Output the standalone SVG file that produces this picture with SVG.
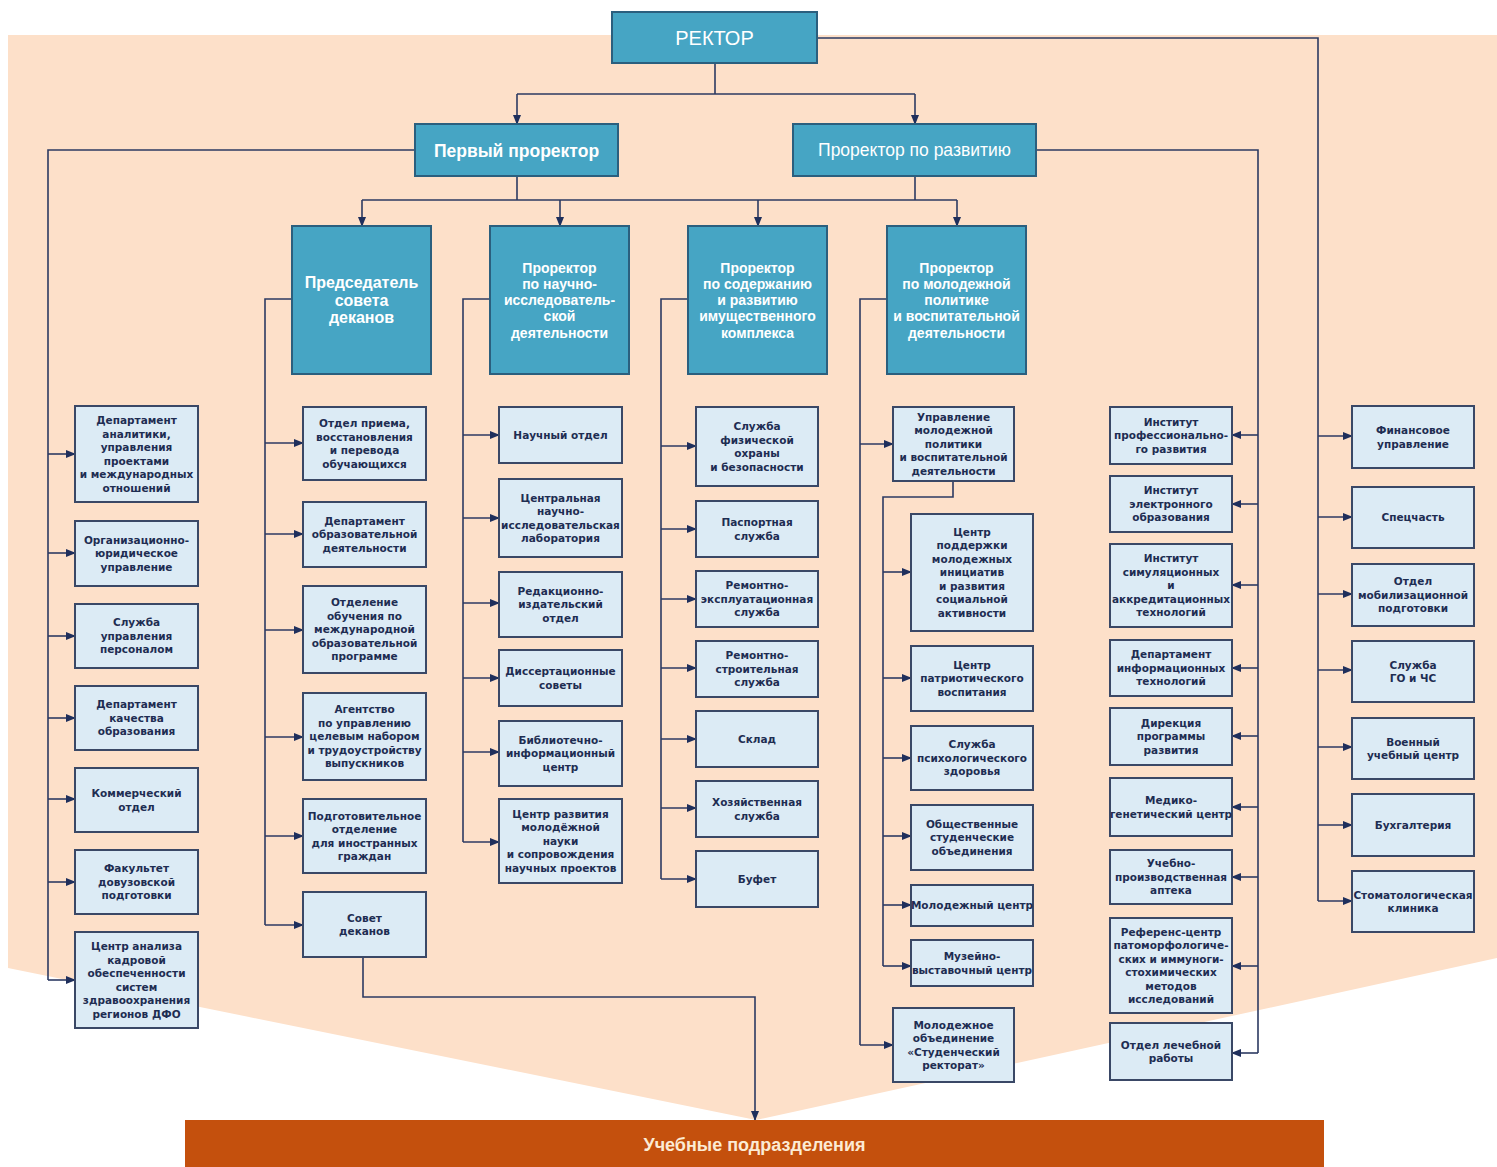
<svg xmlns="http://www.w3.org/2000/svg" width="1497" height="1167" viewBox="0 0 1497 1167">
<style>
.bg{fill:#fde0c9}
.hdr rect{fill:#46a5c4;stroke:#2b5f7e;stroke-width:2}
.hdr text{fill:#ffffff;font-family:"Liberation Sans",Arial,sans-serif;text-anchor:middle}
.tall text{font-weight:bold}
.box rect{fill:#dcebf5;stroke:#3a4866;stroke-width:2}
.box text{fill:#1e2d52;font-family:"DejaVu Sans",Verdana,sans-serif;font-size:10.5px;font-weight:bold;text-anchor:middle}
.ln{fill:none;stroke:#2c3a62;stroke-width:1.6}
.ar{fill:none;stroke:#2c3a62;stroke-width:1.6;marker-end:url(#ah)}
</style>
<defs>
<marker id="ah" markerUnits="userSpaceOnUse" markerWidth="10" markerHeight="8" refX="9" refY="4" orient="auto">
<path d="M0,0 L10,4 L0,8 Z" fill="#1f2f5c"/>
</marker>
</defs>
<rect width="1497" height="1167" fill="#ffffff"/>
<polygon class="bg" points="8,35 1497,35 1497,958 756,1120 8,968"/>

<g id="connectors">
<path class="ln" d="M715,63 V94 M517,94 H915"/>
<path class="ar" d="M517,94 V124"/>
<path class="ar" d="M915,94 V124"/>
<path class="ln" d="M817,38 H1318 V901"/>
<path class="ln" d="M415,150 H48 V980"/>
<path class="ln" d="M1036,150 H1258 V1053"/>
<path class="ln" d="M517,176 V200 M915,176 V200 M362,200 H957"/>
<path class="ar" d="M362,200 V226"/>
<path class="ar" d="M560,200 V226"/>
<path class="ar" d="M758,200 V226"/>
<path class="ar" d="M957,200 V226"/>
<path class="ln" d="M292,299 H265 V925"/>
<path class="ln" d="M490,299 H463 V842"/>
<path class="ln" d="M688,299 H661 V879"/>
<path class="ln" d="M887,299 H860 V1045"/>
<path class="ln" d="M953,481 V497 H883 V966"/>
<path class="ar" d="M363,957 V997 H755 V1120"/>
<path class="ar" d="M48,454 H75"/><path class="ar" d="M48,553 H75"/><path class="ar" d="M48,636 H75"/><path class="ar" d="M48,718 H75"/><path class="ar" d="M48,799 H75"/><path class="ar" d="M48,882 H75"/><path class="ar" d="M48,980 H75"/>
<path class="ar" d="M265,443 H303"/><path class="ar" d="M265,534 H303"/><path class="ar" d="M265,630 H303"/><path class="ar" d="M265,737 H303"/><path class="ar" d="M265,836 H303"/><path class="ar" d="M265,925 H303"/>
<path class="ar" d="M463,435 H499"/><path class="ar" d="M463,518 H499"/><path class="ar" d="M463,603 H499"/><path class="ar" d="M463,678 H499"/><path class="ar" d="M463,752 H499"/><path class="ar" d="M463,842 H499"/>
<path class="ar" d="M661,446 H696"/><path class="ar" d="M661,529 H696"/><path class="ar" d="M661,599 H696"/><path class="ar" d="M661,668 H696"/><path class="ar" d="M661,739 H696"/><path class="ar" d="M661,808 H696"/><path class="ar" d="M661,879 H696"/>
<path class="ar" d="M860,444 H893"/><path class="ar" d="M860,1045 H893"/>
<path class="ar" d="M883,572 H911"/><path class="ar" d="M883,678 H911"/><path class="ar" d="M883,758 H911"/><path class="ar" d="M883,836 H911"/><path class="ar" d="M883,905 H911"/><path class="ar" d="M883,966 H911"/>
<path class="ar" d="M1258,435 H1232"/><path class="ar" d="M1258,504 H1232"/><path class="ar" d="M1258,585 H1232"/><path class="ar" d="M1258,668 H1232"/><path class="ar" d="M1258,736 H1232"/><path class="ar" d="M1258,807 H1232"/><path class="ar" d="M1258,877 H1232"/><path class="ar" d="M1258,966 H1232"/><path class="ar" d="M1258,1053 H1232"/>
<path class="ar" d="M1318,436 H1352"/><path class="ar" d="M1318,517 H1352"/><path class="ar" d="M1318,594 H1352"/><path class="ar" d="M1318,670 H1352"/><path class="ar" d="M1318,747 H1352"/><path class="ar" d="M1318,825 H1352"/><path class="ar" d="M1318,901 H1352"/>
</g>

<g id="rector" class="hdr"><rect x="612" y="12" width="205" height="51"/><text x="714.5" y="45" font-size="20">РЕКТОР</text></g>
<g id="first-prorector" class="hdr"><rect x="415" y="124" width="203" height="52"/><text x="516.5" y="157" font-size="17.5" font-weight="bold">Первый проректор</text></g>
<g id="prorector-dev" class="hdr"><rect x="793" y="124" width="243" height="52"/><text x="914.5" y="156" font-size="17.5">Проректор по развитию</text></g>

<g id="chair-deans" class="hdr tall"><rect x="292" y="226" width="139" height="148"/><text x="361.5" y="288" font-size="16"><tspan x="361.5">Председатель</tspan><tspan x="361.5" dy="17.5">совета</tspan><tspan x="361.5" dy="17.5">деканов</tspan></text></g>
<g id="prorector-science" class="hdr tall"><rect x="490" y="226" width="139" height="148"/><text x="559.5" y="272.5" font-size="14"><tspan x="559.5">Проректор</tspan><tspan x="559.5" dy="16.3">по научно-</tspan><tspan x="559.5" dy="16.3">исследователь-</tspan><tspan x="559.5" dy="16.3">ской</tspan><tspan x="559.5" dy="16.3">деятельности</tspan></text></g>
<g id="prorector-property" class="hdr tall"><rect x="688" y="226" width="139" height="148"/><text x="757.5" y="272.5" font-size="14"><tspan x="757.5">Проректор</tspan><tspan x="757.5" dy="16.3">по содержанию</tspan><tspan x="757.5" dy="16.3">и развитию</tspan><tspan x="757.5" dy="16.3">имущественного</tspan><tspan x="757.5" dy="16.3">комплекса</tspan></text></g>
<g id="prorector-youth" class="hdr tall"><rect x="887" y="226" width="139" height="148"/><text x="956.5" y="272.5" font-size="14"><tspan x="956.5">Проректор</tspan><tspan x="956.5" dy="16.3">по молодежной</tspan><tspan x="956.5" dy="16.3">политике</tspan><tspan x="956.5" dy="16.3">и воспитательной</tspan><tspan x="956.5" dy="16.3">деятельности</tspan></text></g>

<g id="c1-1" class="box"><rect x="75" y="406" width="123" height="96"/><text x="136.5" y="424"><tspan x="136.5">Департамент</tspan><tspan x="136.5" dy="13.5">аналитики,</tspan><tspan x="136.5" dy="13.5">управления</tspan><tspan x="136.5" dy="13.5">проектами</tspan><tspan x="136.5" dy="13.5">и международных</tspan><tspan x="136.5" dy="13.5">отношений</tspan></text></g>
<g id="c1-2" class="box"><rect x="75" y="521" width="123" height="65"/><text x="136.5" y="543.8"><tspan x="136.5">Организационно-</tspan><tspan x="136.5" dy="13.5">юридическое</tspan><tspan x="136.5" dy="13.5">управление</tspan></text></g>
<g id="c1-3" class="box"><rect x="75" y="604" width="123" height="64"/><text x="136.5" y="626.3"><tspan x="136.5">Служба</tspan><tspan x="136.5" dy="13.5">управления</tspan><tspan x="136.5" dy="13.5">персоналом</tspan></text></g>
<g id="c1-4" class="box"><rect x="75" y="686" width="123" height="64"/><text x="136.5" y="708.3"><tspan x="136.5">Департамент</tspan><tspan x="136.5" dy="13.5">качества</tspan><tspan x="136.5" dy="13.5">образования</tspan></text></g>
<g id="c1-5" class="box"><rect x="75" y="768" width="123" height="64"/><text x="136.5" y="797"><tspan x="136.5">Коммерческий</tspan><tspan x="136.5" dy="13.5">отдел</tspan></text></g>
<g id="c1-6" class="box"><rect x="75" y="850" width="123" height="64"/><text x="136.5" y="872.3"><tspan x="136.5">Факультет</tspan><tspan x="136.5" dy="13.5">довузовской</tspan><tspan x="136.5" dy="13.5">подготовки</tspan></text></g>
<g id="c1-7" class="box"><rect x="75" y="932" width="123" height="96"/><text x="136.5" y="950"><tspan x="136.5">Центр анализа</tspan><tspan x="136.5" dy="13.5">кадровой</tspan><tspan x="136.5" dy="13.5">обеспеченности</tspan><tspan x="136.5" dy="13.5">систем</tspan><tspan x="136.5" dy="13.5">здравоохранения</tspan><tspan x="136.5" dy="13.5">регионов ДФО</tspan></text></g>

<g id="c2-1" class="box"><rect x="303" y="407" width="123" height="73"/><text x="364.5" y="427"><tspan x="364.5">Отдел приема,</tspan><tspan x="364.5" dy="13.5">восстановления</tspan><tspan x="364.5" dy="13.5">и перевода</tspan><tspan x="364.5" dy="13.5">обучающихся</tspan></text></g>
<g id="c2-2" class="box"><rect x="303" y="502" width="123" height="65"/><text x="364.5" y="524.8"><tspan x="364.5">Департамент</tspan><tspan x="364.5" dy="13.5">образовательной</tspan><tspan x="364.5" dy="13.5">деятельности</tspan></text></g>
<g id="c2-3" class="box"><rect x="303" y="586" width="123" height="87"/><text x="364.5" y="606.3"><tspan x="364.5">Отделение</tspan><tspan x="364.5" dy="13.5">обучения по</tspan><tspan x="364.5" dy="13.5">международной</tspan><tspan x="364.5" dy="13.5">образовательной</tspan><tspan x="364.5" dy="13.5">программе</tspan></text></g>
<g id="c2-4" class="box"><rect x="303" y="693" width="123" height="87"/><text x="364.5" y="713.3"><tspan x="364.5">Агентство</tspan><tspan x="364.5" dy="13.5">по управлению</tspan><tspan x="364.5" dy="13.5">целевым набором</tspan><tspan x="364.5" dy="13.5">и трудоустройству</tspan><tspan x="364.5" dy="13.5">выпускников</tspan></text></g>
<g id="c2-5" class="box"><rect x="303" y="799" width="123" height="74"/><text x="364.5" y="819.5"><tspan x="364.5">Подготовительное</tspan><tspan x="364.5" dy="13.5">отделение</tspan><tspan x="364.5" dy="13.5">для иностранных</tspan><tspan x="364.5" dy="13.5">граждан</tspan></text></g>
<g id="c2-6" class="box"><rect x="303" y="892" width="123" height="65"/><text x="364.5" y="921.5"><tspan x="364.5">Совет</tspan><tspan x="364.5" dy="13.5">деканов</tspan></text></g>

<g id="c3-1" class="box"><rect x="499" y="407" width="123" height="56"/><text x="560.5" y="438.8">Научный отдел</text></g>
<g id="c3-2" class="box"><rect x="499" y="479" width="123" height="78"/><text x="560.5" y="501.5"><tspan x="560.5">Центральная</tspan><tspan x="560.5" dy="13.5">научно-</tspan><tspan x="560.5" dy="13.5">исследовательская</tspan><tspan x="560.5" dy="13.5">лаборатория</tspan></text></g>
<g id="c3-3" class="box"><rect x="499" y="572" width="123" height="65"/><text x="560.5" y="594.8"><tspan x="560.5">Редакционно-</tspan><tspan x="560.5" dy="13.5">издательский</tspan><tspan x="560.5" dy="13.5">отдел</tspan></text></g>
<g id="c3-4" class="box"><rect x="499" y="650" width="123" height="56"/><text x="560.5" y="675"><tspan x="560.5">Диссертационные</tspan><tspan x="560.5" dy="13.5">советы</tspan></text></g>
<g id="c3-5" class="box"><rect x="499" y="721" width="123" height="65"/><text x="560.5" y="743.8"><tspan x="560.5">Библиотечно-</tspan><tspan x="560.5" dy="13.5">информационный</tspan><tspan x="560.5" dy="13.5">центр</tspan></text></g>
<g id="c3-6" class="box"><rect x="499" y="799" width="123" height="84"/><text x="560.5" y="817.8"><tspan x="560.5">Центр развития</tspan><tspan x="560.5" dy="13.5">молодёжной</tspan><tspan x="560.5" dy="13.5">науки</tspan><tspan x="560.5" dy="13.5">и сопровождения</tspan><tspan x="560.5" dy="13.5">научных проектов</tspan></text></g>

<g id="c4-1" class="box"><rect x="696" y="407" width="122" height="79"/><text x="757" y="430"><tspan x="757">Служба</tspan><tspan x="757" dy="13.5">физической</tspan><tspan x="757" dy="13.5">охраны</tspan><tspan x="757" dy="13.5">и безопасности</tspan></text></g>
<g id="c4-2" class="box"><rect x="696" y="501" width="122" height="56"/><text x="757" y="526"><tspan x="757">Паспортная</tspan><tspan x="757" dy="13.5">служба</tspan></text></g>
<g id="c4-3" class="box"><rect x="696" y="571" width="122" height="56"/><text x="757" y="589.3"><tspan x="757">Ремонтно-</tspan><tspan x="757" dy="13.5">эксплуатационная</tspan><tspan x="757" dy="13.5">служба</tspan></text></g>
<g id="c4-4" class="box"><rect x="696" y="641" width="122" height="56"/><text x="757" y="659.3"><tspan x="757">Ремонтно-</tspan><tspan x="757" dy="13.5">строительная</tspan><tspan x="757" dy="13.5">служба</tspan></text></g>
<g id="c4-5" class="box"><rect x="696" y="711" width="122" height="56"/><text x="757" y="742.8">Склад</text></g>
<g id="c4-6" class="box"><rect x="696" y="781" width="122" height="56"/><text x="757" y="806"><tspan x="757">Хозяйственная</tspan><tspan x="757" dy="13.5">служба</tspan></text></g>
<g id="c4-7" class="box"><rect x="696" y="851" width="122" height="56"/><text x="757" y="882.8">Буфет</text></g>

<g id="c5-1" class="box"><rect x="893" y="407" width="121" height="74"/><text x="953.5" y="420.8"><tspan x="953.5">Управление</tspan><tspan x="953.5" dy="13.5">молодежной</tspan><tspan x="953.5" dy="13.5">политики</tspan><tspan x="953.5" dy="13.5">и воспитательной</tspan><tspan x="953.5" dy="13.5">деятельности</tspan></text></g>
<g id="c5-2" class="box"><rect x="911" y="514" width="122" height="117"/><text x="972" y="535.8"><tspan x="972">Центр</tspan><tspan x="972" dy="13.5">поддержки</tspan><tspan x="972" dy="13.5">молодежных</tspan><tspan x="972" dy="13.5">инициатив</tspan><tspan x="972" dy="13.5">и развития</tspan><tspan x="972" dy="13.5">социальной</tspan><tspan x="972" dy="13.5">активности</tspan></text></g>
<g id="c5-3" class="box"><rect x="911" y="646" width="122" height="65"/><text x="972" y="668.8"><tspan x="972">Центр</tspan><tspan x="972" dy="13.5">патриотического</tspan><tspan x="972" dy="13.5">воспитания</tspan></text></g>
<g id="c5-4" class="box"><rect x="911" y="726" width="122" height="64"/><text x="972" y="748.3"><tspan x="972">Служба</tspan><tspan x="972" dy="13.5">психологического</tspan><tspan x="972" dy="13.5">здоровья</tspan></text></g>
<g id="c5-5" class="box"><rect x="911" y="805" width="122" height="65"/><text x="972" y="827.8"><tspan x="972">Общественные</tspan><tspan x="972" dy="13.5">студенческие</tspan><tspan x="972" dy="13.5">объединения</tspan></text></g>
<g id="c5-6" class="box"><rect x="911" y="885" width="122" height="41"/><text x="972" y="909.3">Молодежный центр</text></g>
<g id="c5-7" class="box"><rect x="911" y="940" width="122" height="46"/><text x="972" y="960"><tspan x="972">Музейно-</tspan><tspan x="972" dy="13.5">выставочный центр</tspan></text></g>
<g id="c5-8" class="box"><rect x="893" y="1008" width="121" height="74"/><text x="953.5" y="1028.5"><tspan x="953.5">Молодежное</tspan><tspan x="953.5" dy="13.5">объединение</tspan><tspan x="953.5" dy="13.5">«Студенческий</tspan><tspan x="953.5" dy="13.5">ректорат»</tspan></text></g>

<g id="c6-1" class="box"><rect x="1110" y="407" width="122" height="57"/><text x="1171" y="425.8"><tspan x="1171">Институт</tspan><tspan x="1171" dy="13.5">профессионально-</tspan><tspan x="1171" dy="13.5">го развития</tspan></text></g>
<g id="c6-2" class="box"><rect x="1110" y="476" width="122" height="56"/><text x="1171" y="494.3"><tspan x="1171">Институт</tspan><tspan x="1171" dy="13.5">электронного</tspan><tspan x="1171" dy="13.5">образования</tspan></text></g>
<g id="c6-3" class="box"><rect x="1110" y="544" width="122" height="83"/><text x="1171" y="562.3"><tspan x="1171">Институт</tspan><tspan x="1171" dy="13.5">симуляционных</tspan><tspan x="1171" dy="13.5">и</tspan><tspan x="1171" dy="13.5">аккредитационных</tspan><tspan x="1171" dy="13.5">технологий</tspan></text></g>
<g id="c6-4" class="box"><rect x="1110" y="640" width="122" height="56"/><text x="1171" y="658.3"><tspan x="1171">Департамент</tspan><tspan x="1171" dy="13.5">информационных</tspan><tspan x="1171" dy="13.5">технологий</tspan></text></g>
<g id="c6-5" class="box"><rect x="1110" y="708" width="122" height="57"/><text x="1171" y="726.8"><tspan x="1171">Дирекция</tspan><tspan x="1171" dy="13.5">программы</tspan><tspan x="1171" dy="13.5">развития</tspan></text></g>
<g id="c6-6" class="box"><rect x="1110" y="778" width="122" height="58"/><text x="1171" y="804"><tspan x="1171">Медико-</tspan><tspan x="1171" dy="13.5">генетический центр</tspan></text></g>
<g id="c6-7" class="box"><rect x="1110" y="850" width="122" height="54"/><text x="1171" y="867.3"><tspan x="1171">Учебно-</tspan><tspan x="1171" dy="13.5">производственная</tspan><tspan x="1171" dy="13.5">аптека</tspan></text></g>
<g id="c6-8" class="box"><rect x="1110" y="918" width="122" height="95"/><text x="1171" y="935.5"><tspan x="1171">Референс-центр</tspan><tspan x="1171" dy="13.5">патоморфологиче-</tspan><tspan x="1171" dy="13.5">ских и иммуноги-</tspan><tspan x="1171" dy="13.5">стохимических</tspan><tspan x="1171" dy="13.5">методов</tspan><tspan x="1171" dy="13.5">исследований</tspan></text></g>
<g id="c6-9" class="box"><rect x="1110" y="1023" width="122" height="57"/><text x="1171" y="1048.5"><tspan x="1171">Отдел лечебной</tspan><tspan x="1171" dy="13.5">работы</tspan></text></g>

<g id="c7-1" class="box"><rect x="1352" y="406" width="122" height="62"/><text x="1413" y="434"><tspan x="1413">Финансовое</tspan><tspan x="1413" dy="13.5">управление</tspan></text></g>
<g id="c7-2" class="box"><rect x="1352" y="487" width="122" height="61"/><text x="1413" y="521.3">Спецчасть</text></g>
<g id="c7-3" class="box"><rect x="1352" y="564" width="122" height="62"/><text x="1413" y="585.3"><tspan x="1413">Отдел</tspan><tspan x="1413" dy="13.5">мобилизационной</tspan><tspan x="1413" dy="13.5">подготовки</tspan></text></g>
<g id="c7-4" class="box"><rect x="1352" y="641" width="122" height="61"/><text x="1413" y="668.5"><tspan x="1413">Служба</tspan><tspan x="1413" dy="13.5">ГО и ЧС</tspan></text></g>
<g id="c7-5" class="box"><rect x="1352" y="718" width="122" height="61"/><text x="1413" y="745.5"><tspan x="1413">Военный</tspan><tspan x="1413" dy="13.5">учебный центр</tspan></text></g>
<g id="c7-6" class="box"><rect x="1352" y="794" width="122" height="62"/><text x="1413" y="828.8">Бухгалтерия</text></g>
<g id="c7-7" class="box"><rect x="1352" y="871" width="122" height="61"/><text x="1413" y="898.5"><tspan x="1413">Стоматологическая</tspan><tspan x="1413" dy="13.5">клиника</tspan></text></g>

<g id="teaching-units"><rect x="185" y="1120" width="1139" height="47" fill="#c4500d"/><text x="754.5" y="1151" font-family="Liberation Sans, Arial, sans-serif" font-size="18" font-weight="bold" fill="#fcebd4" text-anchor="middle">Учебные подразделения</text></g>
</svg>
